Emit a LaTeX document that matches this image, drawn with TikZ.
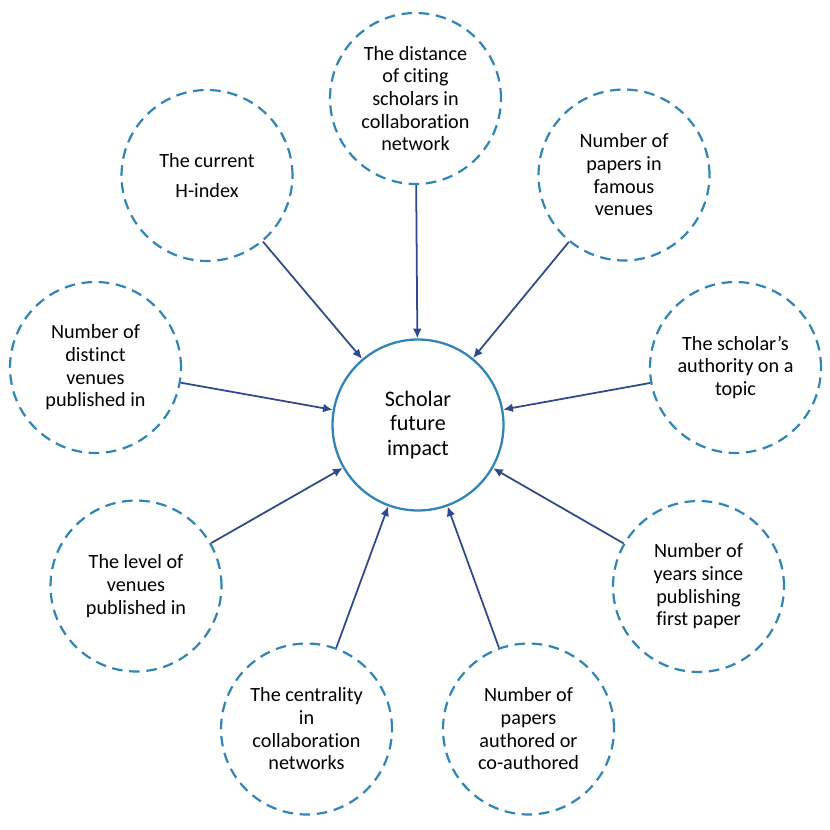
\documentclass[tikz,border=0pt]{standalone}
\usepackage{fontspec}
\setmainfont{Carlito}[Ligatures=NoCommon]
\usetikzlibrary{arrows.meta}
\definecolor{Ring}{HTML}{3085B6}
\definecolor{Navy}{HTML}{2E4A8C}

\begin{document}
\begin{tikzpicture}[
  x=0.02cm,y=-0.02cm,
  factor/.style={circle,draw=Ring,line width=1.25pt,dash pattern=on 6pt off 3.8pt,minimum size=3.42cm,inner sep=0pt,align=center,font=\fontsize{11.5}{12.9}\selectfont},
  target/.style={circle,draw=Ring,line width=1.3pt,minimum size=3.42cm,inner sep=0pt,align=center,font=\fontsize{12.6}{14}\selectfont},
  link/.style={-{Latex[length=5.5pt,width=5pt]},color=Navy,line width=1pt}
]
\useasboundingbox (0,0) rectangle (830,830);

\node[target] (impact) at (418,425) {Scholar\\future\\impact};

\node[factor] (distance) at (415.5,98.5) {The distance\\of citing\\scholars in\\collaboration\\network};
\node[factor] (hindex) at (207,175.5) {The current\\[4pt]H-index};
\node[factor] (famous) at (624,175) {Number of\\papers in\\famous\\venues};
\node[factor] (distinct) at (95.5,367.5) {Number of\\distinct\\venues\\published in};
\node[factor] (authority) at (735.5,367.5) {The scholar’s\\authority on a\\topic};
\node[factor] (level) at (136,586) {The level of\\venues\\published in};
\node[factor] (years) at (698.5,586.5) {Number of\\years since\\publishing\\first paper};
\node[factor] (centrality) at (306.5,729) {The centrality\\in\\collaboration\\networks};
\node[factor] (authored) at (528.5,729) {Number of\\papers\\authored or\\co-authored};

\draw[link] (distance) -- (impact);
\draw[link] (hindex) -- (impact);
\draw[link] (famous) -- (impact);
\draw[link] (distinct) -- (impact);
\draw[link] (authority) -- (impact);
\draw[link] (level) -- (impact);
\draw[link] (years) -- (impact);
\draw[link] (centrality) -- (impact);
\draw[link] (authored) -- (impact);
\end{tikzpicture}
\end{document}
